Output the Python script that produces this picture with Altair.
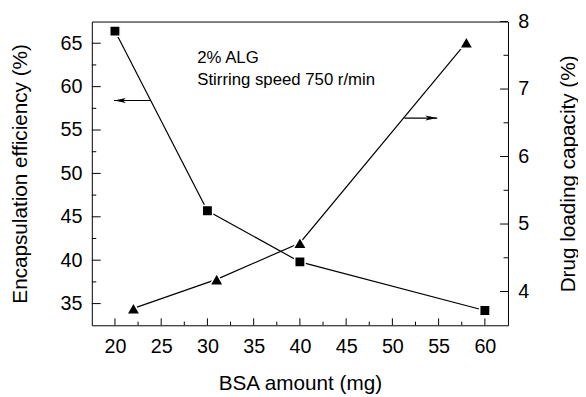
import altair as alt
import pandas as pd

# ---- data ----
bsa_ee = [20, 30, 40, 60]
ee = [66.4, 45.7, 39.8, 34.2]          # Encapsulation efficiency (%)
bsa_dl = [22, 31, 40, 58]
dl = [3.75, 4.18, 4.72, 7.69]          # Drug loading capacity (%)

x_major = [20, 25, 30, 35, 40, 45, 50, 55, 60]
x_minor = [22.5, 27.5, 32.5, 37.5, 42.5, 47.5, 52.5, 57.5]
left_major = [35, 40, 45, 50, 55, 60, 65]
left_minor = [37.5, 42.5, 47.5, 52.5, 57.5, 62.5]
right_major = [4, 5, 6, 7, 8]
right_minor = [4.5, 5.5, 6.5, 7.5]

# arrows (data coords): start on the curve, tip pointing to axis
left_arrow = {"x": 23.8, "x2": 19.9, "y": 58.4}
right_arrow = {"x": 51.3, "x2": 54.85, "y": 6.57}

note_lines = ["2% ALG", "Stirring speed 750 r/min"]
note_x = [28.9, 28.9]
note_y = [62.7, 60.2]

W, H = 422, 308
FONT = "Liberation Sans"

xscale = alt.Scale(domain=[17.5, 62.5], nice=False, zero=False)
lscale = alt.Scale(domain=[32.5, 67.5], nice=False, zero=False)
rscale = alt.Scale(domain=[3.5, 8.0], nice=False, zero=False)

def xaxis():
    return alt.Axis(values=x_major, title="BSA amount (mg)",
                    labelPadding=12, titleX=W / 2, titleY=65,
                    titleBaseline="alphabetic", titleAlign="center")

def X(field="x"):
    return alt.X(f"{field}:Q", scale=xscale, axis=xaxis())

def YL():
    return alt.Y("y:Q", scale=lscale,
                 axis=alt.Axis(values=left_major, orient="left",
                               title="Encapsulation efficiency (%)",
                               labelPadding=10, titleX=-66, titleY=H / 2,
                               titleAngle=270, titleBaseline="alphabetic",
                               titleAlign="center"))

def YR():
    return alt.Y("y:Q", scale=rscale,
                 axis=alt.Axis(values=right_major, orient="right",
                               title="Drug loading capacity (%)",
                               labelPadding=10, titleX=67, titleY=H / 2,
                               titleAngle=270, titleBaseline="alphabetic",
                               titleAlign="center"))

df_ee = pd.DataFrame({"x": bsa_ee, "y": ee})
df_dl = pd.DataFrame({"x": bsa_dl, "y": dl})

# ---- left group ----
ee_line = alt.Chart(df_ee).mark_line(color="black", strokeWidth=1.2).encode(x=X(), y=YL())
ee_pts = alt.Chart(df_ee).mark_point(shape="square", filled=True, size=110, color="black",
                                     stroke="white", strokeWidth=1.5, opacity=1).encode(x=X(), y=YL())

lt_major = alt.Chart(pd.DataFrame({"y": left_major})).mark_rule(color="black", strokeWidth=1).encode(
    y=YL(), x=alt.value(0), x2=alt.value(9))
lt_minor = alt.Chart(pd.DataFrame({"y": left_minor})).mark_rule(color="black", strokeWidth=1).encode(
    y=YL(), x=alt.value(0), x2=alt.value(4.5))

xt_major = alt.Chart(pd.DataFrame({"x": x_major})).mark_rule(color="black", strokeWidth=1).encode(
    x=X(), y=alt.value(H - 7), y2=alt.value(H))
xt_minor = alt.Chart(pd.DataFrame({"x": x_minor})).mark_rule(color="black", strokeWidth=1).encode(
    x=X(), y=alt.value(H - 3.7), y2=alt.value(H))

la_df = pd.DataFrame([left_arrow])
la_line = alt.Chart(la_df).mark_rule(color="black", strokeWidth=1.2).encode(
    x=X(), x2="x2:Q", y=YL())
la_head = alt.Chart(la_df).mark_point(shape="M0,0 L2,-0.42 L1.55,0 L2,0.42 Z", filled=True,
                                      size=144, color="black", opacity=1).encode(
    x=X("x2"), y=YL())

note = alt.Chart(pd.DataFrame({"x": note_x, "y": note_y, "t": note_lines})).mark_text(
    align="left", baseline="alphabetic", font=FONT, fontSize=17, color="black").encode(
    x=X(), y=YL(), text="t:N")

left = alt.layer(lt_major, lt_minor, xt_major, xt_minor, ee_line, la_line, la_head, note, ee_pts)

# ---- right group ----
dl_line = alt.Chart(df_dl).mark_line(color="black", strokeWidth=1.2).encode(x=X(), y=YR())
dl_pts = alt.Chart(df_dl).mark_point(shape="triangle-up", filled=True, size=190, color="black",
                                     stroke="white", strokeWidth=1.5, opacity=1).encode(x=X(), y=YR())

rt_major = alt.Chart(pd.DataFrame({"y": right_major})).mark_rule(color="black", strokeWidth=1).encode(
    y=YR(), x=alt.value(W - 8), x2=alt.value(W))
rt_minor = alt.Chart(pd.DataFrame({"y": right_minor})).mark_rule(color="black", strokeWidth=1).encode(
    y=YR(), x=alt.value(W - 4.5), x2=alt.value(W))

ra_df = pd.DataFrame([right_arrow])
ra_line = alt.Chart(ra_df).mark_rule(color="black", strokeWidth=1.2).encode(
    x=X(), x2="x2:Q", y=YR())
ra_head = alt.Chart(ra_df).mark_point(shape="M0,0 L-2,-0.42 L-1.55,0 L-2,0.42 Z", filled=True,
                                      size=144, color="black", opacity=1).encode(
    x=X("x2"), y=YR())

right = alt.layer(rt_major, rt_minor, dl_line, ra_line, ra_head, dl_pts)

chart = alt.layer(left, right).resolve_scale(y="independent").properties(
    width=W, height=H,
    autosize=alt.AutoSizeParams(type="none"),
    padding={"left": 85, "top": 11, "right": 71, "bottom": 70},
).configure_view(stroke="black", strokeWidth=1).configure_axis(
    ticks=False, tickSize=0, domain=False, grid=False,
    labelFont=FONT, labelFontSize=20, labelColor="black",
    titleFont=FONT, titleFontSize=21, titleFontWeight="normal", titleColor="black",
)

chart.save("out.html", embed_options={"renderer": "svg", "actions": False})
